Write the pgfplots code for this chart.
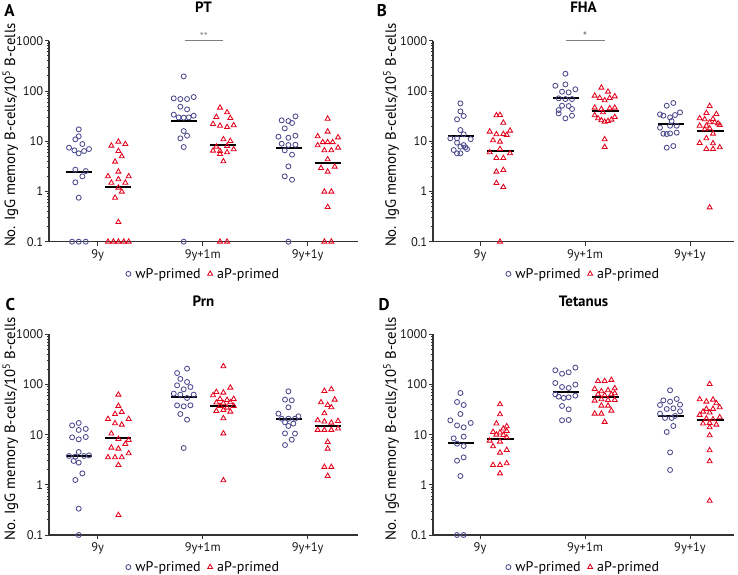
\documentclass[border=0pt]{standalone}
\usepackage{fontspec}
\setmainfont{PT Sans}
\usepackage{pgfplots}
\pgfplotsset{compat=1.18}
\definecolor{wpc}{HTML}{4B4B8F}
\definecolor{apc}{HTML}{E3001B}
\definecolor{axc}{HTML}{333333}
\newcommand\tfont{\fontsize{12.5}{14}\selectfont}
\pgfplotsset{
  legend image code/.code={\draw[#1] plot coordinates {(0.12cm,0cm)};},
  every axis/.append style={
    scale only axis, ymin=0.1, ymax=1000,
    axis lines*=left, clip=false,
    axis line style={axc, line width=1.2pt},
    tick style={axc, line width=0.9pt},
    tick align=outside, major tick length=4pt, minor tick length=2.2pt,
    ytick={0.1,1,10,100,1000}, yticklabels={0.1,1,10,100,1000},
    minor ytick={0.2,0.3,0.4,0.5,0.6,0.7,0.8,0.9,2,3,4,5,6,7,8,9,20,30,40,50,60,70,80,90,200,300,400,500,600,700,800,900},
    xtick={1,2,3}, xticklabels={9y,9y+1m,9y+1y},
    tick label style={font=\tfont, text=black!90},
    yticklabel style={inner sep=1.5pt},
    ylabel={No. IgG memory B-cells/10\textsuperscript{5} B-cells},
    ylabel style={font=\fontsize{14.8}{16}\selectfont, anchor=center},
    title style={font=\bfseries\fontsize{15}{17}\selectfont, at={(0.5,1.136)}, anchor=center},
    legend style={at={(0.5,-0.16)}, anchor=center, draw=none, fill=none,
      font=\fontsize{14}{16}\selectfont, legend columns=2, inner sep=0pt},
  },
  wp/.style={only marks, mark=o, color=wpc, mark size=2.5pt, line width=0.85pt},
  ap/.style={only marks, mark=triangle, color=apc, mark size=2.9pt, line width=0.85pt},
  med/.style={black, line width=1.9pt, forget plot},
}
\tikzset{every even column/.append style={column sep=5pt},
         every odd column/.append style={column sep=2.5pt}}
\newcommand\med[3]{\addplot[med] coordinates {(#1,#3) (#2,#3)};}
\newcommand\medians[6]{%
  \med{0.695}{0.945}{#1}\med{1.07}{1.32}{#2}%
  \med{1.695}{1.945}{#3}\med{2.07}{2.32}{#4}%
  \med{2.695}{2.945}{#5}\med{3.07}{3.32}{#6}}
\begin{document}
\begin{tikzpicture}
\useasboundingbox (0,0) rectangle (738pt,574pt);
% ---------------- A: PT
\begin{axis}[ymode=log, at={(49pt,332.3pt)}, anchor=south west, width=309pt, height=201pt,
  xmin=0.536, xmax=3.479, title={PT}, ylabel style={at={(axis description cs:-0.125,0.53)}}]
\addplot[wp] coordinates {
(0.819,17.2)(0.819,12.5)(0.787,10.9)(0.854,8.78)(0.727,7.43)(0.778,6.57)(0.819,5.73)(0.870,6.37)(0.917,6.98)
(0.787,2.71)(0.886,2.55)(0.854,2.0)(0.787,1.52)(0.819,0.75)(0.756,0.1)(0.819,0.1)(0.886,0.1)
(1.819,195)(1.724,71.2)(1.787,69.0)(1.851,69.0)(1.914,75.7)(1.787,48.6)(1.851,43.0)
(1.724,33.7)(1.771,29.8)(1.819,29.4)(1.867,29.8)(1.914,32.2)(1.819,15.9)(1.851,12.9)(1.787,11.4)(1.819,7.65)(1.819,0.1)
(2.883,31.2)(2.752,26.0)(2.816,25.2)(2.851,23.0)(2.781,18.0)(2.721,12.3)(2.816,11.7)(2.883,12.9)
(2.752,8.91)(2.816,8.39)(2.883,8.51)(2.781,6.57)(2.851,5.39)(2.816,3.16)(2.781,2.0)(2.851,1.71)(2.816,0.1)
};
\addlegendentry{wP-primed}
\addplot[ap] coordinates {
(1.197,9.77)(1.263,8.78)(1.130,8.13)(1.197,6.37)(1.229,4.99)(1.165,3.91)
(1.197,2.47)(1.098,2.0)(1.295,2.0)(1.197,1.74)(1.263,1.49)(1.130,1.49)(1.197,1.19)(1.229,0.99)(1.165,0.75)(1.197,0.246)
(1.098,0.1)(1.149,0.1)(1.197,0.1)(1.248,0.1)(1.295,0.1)
(2.165,46.4)(2.232,37.5)(2.130,30.3)(2.263,28.9)(2.098,22.0)(2.165,20.3)(2.232,19.1)(2.295,20.7)
(2.197,10.9)(2.263,10.1)(2.130,7.78)(2.232,8.02)(2.098,6.47)(2.165,6.37)(2.232,6.0)(2.295,6.88)(2.165,5.56)(2.197,3.97)
(2.165,0.1)(2.232,0.1)
(3.190,28.0)(3.190,15.5)(3.095,12.5)(3.289,11.9)(3.143,9.55)(3.190,9.55)(3.238,9.55)(3.095,8.26)(3.289,7.43)
(3.159,6.57)(3.225,6.57)(3.190,4.35)(3.127,2.92)(3.257,3.11)(3.190,2.47)(3.159,0.99)(3.225,0.99)(3.190,0.49)
(3.159,0.1)(3.225,0.1)
};
\addlegendentry{aP-primed}
\medians{2.47}{1.24}{24.8}{8.51}{7.20}{3.62}
\addplot[gray, line width=0.8pt, forget plot] coordinates {(1.83,1000) (2.19,1000)};
\node[gray, font=\fontsize{11}{12}\selectfont, anchor=south, inner sep=0.3pt] at (axis cs:2.01,1000) {**};
\end{axis}
% ---------------- B: FHA
\begin{axis}[ymode=log, at={(433pt,332.3pt)}, anchor=south west, width=301pt, height=201pt,
  xmin=0.552, xmax=3.419, title={FHA}, ylabel style={at={(axis description cs:-0.139,0.53)}}]
\addplot[wp] coordinates {
(0.813,56.6)(0.813,39.3)(0.844,31.7)(0.781,27.2)(0.813,16.7)(0.844,13.7)(0.717,11.4)(0.781,11.4)(0.911,11.0)
(0.781,9.33)(0.844,8.39)(0.813,7.78)(0.860,7.54)(0.749,6.67)(0.876,6.98)(0.781,5.73)(0.813,5.73)
(1.813,220)(1.717,127)(1.813,135)(1.781,96.6)(1.844,93.7)(1.908,108)(1.749,71.2)(1.813,69.0)(1.876,69.0)
(1.781,50.8)(1.844,50.1)(1.749,41.7)(1.876,43.7)(1.749,35.8)(1.876,32.2)(1.813,28.5)
(2.841,57.5)(2.778,50.8)(2.905,37.5)(2.714,34.2)(2.746,32.2)(2.810,29.8)(2.857,33.2)(2.825,25.2)
(2.714,18.6)(2.810,20.3)(2.873,20.3)(2.746,14.1)(2.778,13.9)(2.810,14.3)(2.873,14.8)(2.778,7.43)(2.841,8.02)
};
\addlegendentry{wP-primed}
\addplot[ap] coordinates {
(1.156,32.7)(1.190,33.2)(1.222,23.3)(1.092,15.5)(1.286,16.2)(1.156,13.7)(1.222,13.9)(1.254,13.3)
(1.124,10.4)(1.190,9.77)(1.190,6.98)(1.092,6.0)(1.286,5.73)(1.156,4.62)(1.222,4.62)(1.156,2.47)(1.222,2.67)
(1.156,1.47)(1.222,1.22)(1.190,0.1)
(2.156,116)(2.219,96.6)(2.092,80.4)(2.140,72.3)(2.187,65.0)(2.235,72.3)(2.283,78.0)
(2.092,46.4)(2.156,43.7)(2.235,45.0)(2.283,46.4)(2.171,37.5)
(2.092,32.7)(2.124,28.5)(2.156,26.0)(2.187,24.4)(2.219,25.2)(2.251,26.8)(2.283,30.3)(2.187,10.9)(2.187,7.65)
(3.187,50.1)(3.156,36.4)(3.251,34.7)(3.092,28.5)(3.140,27.2)(3.219,27.6)(3.187,23.7)(3.235,23.7)(3.267,22.6)
(3.092,20.3)(3.156,20.3)(3.187,18.0)(3.283,21.0)(3.140,17.2)(3.219,14.1)(3.156,11.4)(3.092,9.20)(3.219,9.06)
(3.156,6.98)(3.219,6.98)(3.283,7.54)(3.187,0.48)
};
\addlegendentry{aP-primed}
\medians{12.9}{6.28}{71.2}{39.8}{22.3}{15.7}
\addplot[gray, line width=1.2pt, forget plot] coordinates {(1.816,1000) (2.188,1000)};
\node[gray!80!black, font=\fontsize{12}{13}\selectfont, anchor=south, inner sep=0.3pt] at (axis cs:2.0,1000) {*};
\end{axis}
% ---------------- C: Prn
\begin{axis}[ymode=log, at={(49pt,39pt)}, anchor=south west, width=309pt, height=200.7pt,
  xmin=0.536, xmax=3.479, title={Prn}, ylabel style={at={(axis description cs:-0.125,0.53)}}]
\addplot[wp] coordinates {
(0.756,15.3)(0.819,17.1)(0.819,12.4)(0.886,13.0)(0.756,8.85)(0.819,8.07)(0.886,8.98)(0.819,4.51)
(0.727,3.76)(0.787,3.64)(0.870,3.76)(0.917,3.87)(0.771,2.99)(0.819,2.77)(0.854,1.69)(0.787,1.25)(0.819,0.335)(0.819,0.1)
(1.851,207)(1.756,169)(1.787,129)(1.851,112)(1.756,96.2)(1.883,89.1)(1.819,80.2)
(1.724,65.7)(1.787,62.7)(1.914,62.7)(1.851,53.8)(1.756,38.4)(1.819,36.7)(1.883,38.4)(1.787,25.8)(1.851,19.9)(1.819,5.42)
(2.816,73.1)(2.784,49.9)(2.848,48.3)(2.816,35.1)(2.721,26.2)(2.752,20.8)(2.816,20.8)(2.879,20.8)(2.911,23.2)
(2.784,17.6)(2.863,16.6)(2.816,14.9)(2.784,10.6)(2.879,10.5)(2.848,7.94)(2.784,6.22)
};
\addlegendentry{wP-primed}
\addplot[ap] coordinates {
(1.197,62.7)(1.197,37.3)(1.229,28.3)(1.165,25.8)(1.098,20.5)(1.295,20.5)(1.165,16.8)(1.229,15.8)(1.130,10.5)
(1.197,8.20)(1.295,7.83)(1.263,6.52)(1.130,5.51)(1.197,5.26)(1.295,4.25)(1.098,3.53)(1.165,3.53)(1.229,3.53)
(1.197,2.48)(1.197,0.25)
(2.197,230)(2.263,86.5)(2.130,70.8)(2.197,68.7)(2.098,60.8)(2.165,51.4)(2.232,49.1)(2.295,51.4)
(2.130,43.5)(2.197,42.2)(2.263,44.1)(2.232,34.5)(2.295,37.3)(2.165,37.3)(2.130,29.6)(2.197,31.0)(2.263,28.7)
(2.197,21.2)(2.197,10.6)(2.197,1.23)
(3.159,74.2)(3.225,80.2)(3.257,49.9)(3.127,44.1)(3.190,39.0)(3.225,35.1)(3.159,26.6)
(3.095,19.3)(3.159,18.2)(3.225,17.3)(3.289,18.7)(3.095,12.4)(3.159,12.4)(3.225,12.4)(3.289,13.2)
(3.190,7.14)(3.190,5.26)(3.159,2.27)(3.225,2.27)(3.190,1.50)
};
\addlegendentry{aP-primed}
\medians{3.70}{8.45}{57.2}{37.3}{20.2}{15.1}
\end{axis}
% ---------------- D: Tetanus
\begin{axis}[ymode=log, at={(433pt,39pt)}, anchor=south west, width=301pt, height=200.7pt,
  xmin=0.552, xmax=3.419, title={Tetanus}, ylabel style={at={(axis description cs:-0.139,0.53)}}]
\addplot[wp] coordinates {
(0.813,67.7)(0.781,44.8)(0.844,39.0)(0.813,25.8)(0.717,19.3)(0.781,15.3)(0.844,14.0)(0.911,17.1)
(0.749,8.45)(0.844,9.12)(0.781,6.62)(0.844,5.94)(0.844,3.53)(0.781,3.03)(0.813,1.50)(0.781,0.1)(0.844,0.1)
(1.908,217)(1.717,192)(1.781,164)(1.844,175)(1.717,107)(1.781,89.1)(1.844,85.2)(1.908,99.3)
(1.717,63.7)(1.749,57.2)(1.797,53.8)(1.844,55.5)(1.908,59.9)(1.781,37.3)(1.844,32.0)(1.781,19.3)(1.844,19.6)
(2.810,76.5)(2.746,48.3)(2.810,45.5)(2.873,51.4)(2.714,39.0)(2.778,32.5)(2.841,33.5)(2.905,39.6)
(2.714,26.2)(2.905,29.2)(2.762,21.5)(2.825,21.5)(2.857,23.6)(2.841,14.9)(2.778,11.3)(2.810,4.44)(2.810,1.98)
};
\addlegendentry{wP-primed}
\addplot[ap] coordinates {
(1.190,40.3)(1.190,25.4)(1.156,16.6)(1.254,14.7)(1.222,13.2)(1.124,11.3)(1.190,11.0)(1.254,11.8)
(1.156,10.0)(1.222,9.85)(1.254,8.85)(1.092,7.59)(1.190,7.25)(1.124,5.85)(1.254,4.95)(1.190,4.38)
(1.124,2.48)(1.190,2.48)(1.254,2.68)(1.190,1.69)
(2.124,117)(2.187,117)(2.251,123)(2.092,81.3)(2.156,73.1)(2.219,76.5)(2.283,83.9)
(2.124,63.7)(2.187,60.8)(2.251,63.7)(2.283,66.7)(2.092,47.6)(2.156,50.6)(2.219,49.1)(2.283,49.1)
(2.156,37.8)(2.219,37.8)(2.092,26.2)(2.156,26.2)(2.251,30.1)(2.187,17.9)
(3.187,102)(3.092,50.6)(3.219,49.9)(3.156,45.5)(3.251,42.2)(3.156,32.5)(3.219,32.5)(3.283,35.1)
(3.124,28.7)(3.092,24.7)(3.187,27.5)(3.156,20.8)(3.283,22.2)(3.219,20.2)(3.124,16.6)(3.187,17.1)(3.251,15.8)
(3.187,14.0)(3.187,9.70)(3.187,4.87)(3.187,2.94)(3.187,0.48)
};
\addlegendentry{aP-primed}
\medians{6.72}{8.07}{70.8}{56.4}{23.6}{19.3}
\end{axis}
% panel letters
\node[font=\bfseries\fontsize{17}{19}\selectfont] at (9.5pt,563pt) {A};
\node[font=\bfseries\fontsize{17}{19}\selectfont] at (382pt,563pt) {B};
\node[font=\bfseries\fontsize{17}{19}\selectfont] at (10.5pt,269pt) {C};
\node[font=\bfseries\fontsize{17}{19}\selectfont] at (384pt,269pt) {D};
\end{tikzpicture}
\end{document}
